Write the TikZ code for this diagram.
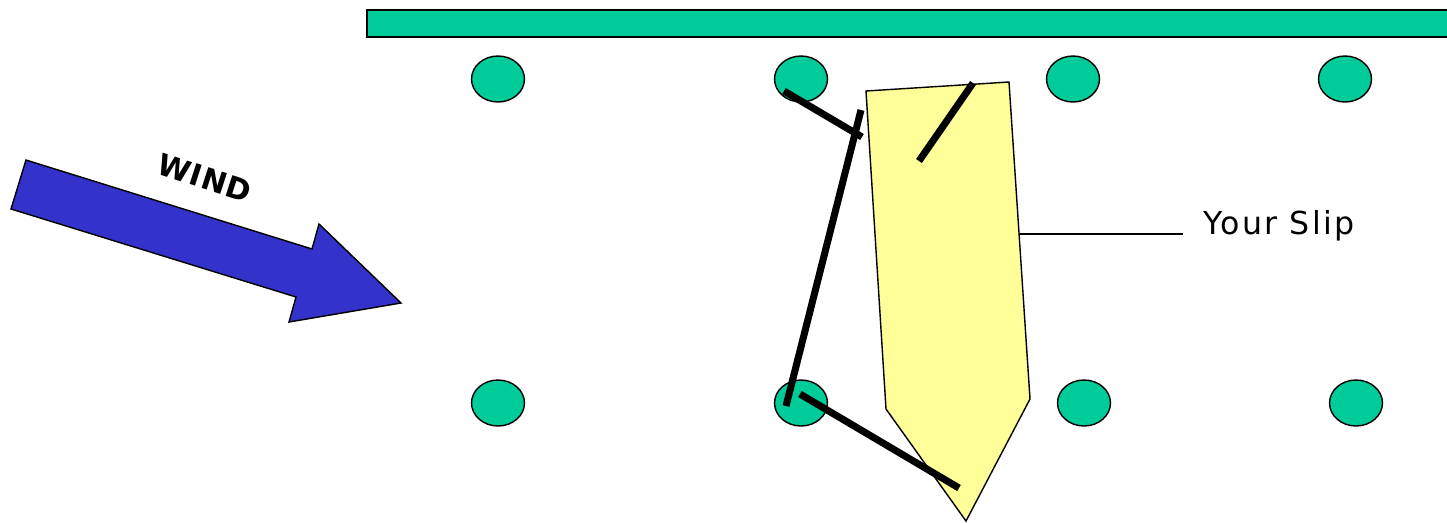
\documentclass[tikz,border=0pt]{standalone}
\usepackage{fontspec}
\setmainfont{DejaVu Sans}
\usetikzlibrary{shapes.geometric}
\definecolor{postgreen}{HTML}{00CC99}
\definecolor{windblue}{HTML}{3333CC}
\definecolor{slipyellow}{HTML}{FFFF99}
\tikzset{
  post/.style={ellipse, draw, line width=0.8pt, fill=postgreen,
    minimum width=1.06cm, minimum height=0.92cm, inner sep=0pt},
  rope/.style={line width=4pt},
  outline/.style={draw=black, line width=0.8pt},
}

\begin{document}
\begin{tikzpicture}[x=0.02cm, y=-0.02cm]
\useasboundingbox (0,0) rectangle (1447,522);

% dock
\fill[postgreen, outline] (367,10) rectangle (1460,37);

% posts
\foreach \px/\nm in {498/tA, 801/tB, 1073/tC, 1345/tD}
  \node[post] (\nm) at (\px,79) {};
\foreach \px/\nm in {498/bA, 801/bB, 1084/bC, 1356/bD}
  \node[post] (\nm) at (\px,403) {};

% wind
\fill[windblue, outline] (26,160) -- (312,249) -- (319,224) -- (401,303)
  -- (289,322) -- (296,297) -- (11,209) -- cycle;
\node[rotate=-18, inner sep=1pt, font=\bfseries\fontsize{17}{19}\selectfont\addfontfeature{LetterSpace=3}] (windlabel) at (205,178) {WIND};

% the boat
\fill[slipyellow, outline] (866,91) -- (1009,82) -- (1030,399) -- (966,521)
  -- (886,409) -- cycle;

% ropes
\draw[rope] (784,91) -- (862,137);
\draw[rope] (861,110) -- (786,406);
\draw[rope] (973,83) -- (919,161);
\draw[rope] (800,394) -- (959,488);

% label
\coordinate (slipedge) at (1020,234);
\node[anchor=base west, inner sep=0pt, font=\fontsize{18}{20}\selectfont\addfontfeature{LetterSpace=7}] (sliplabel) at (1203,234) {Your Slip};
\draw[line width=0.8pt] (slipedge) -- ([xshift=-0.4cm]sliplabel.west |- slipedge);
\end{tikzpicture}
\end{document}
